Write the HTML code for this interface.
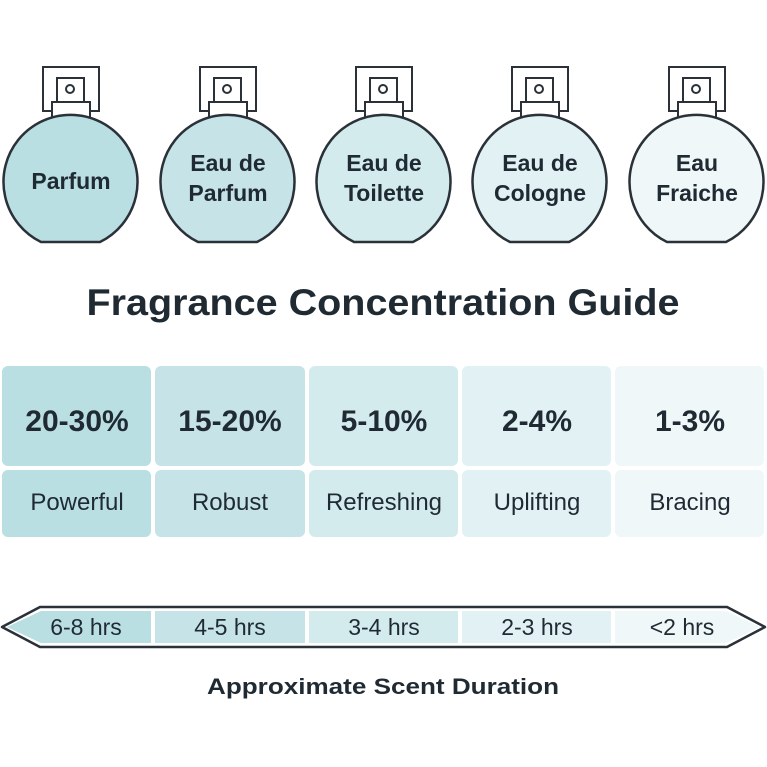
<!DOCTYPE html>
<html><head><meta charset="utf-8"><style>
html,body{margin:0;padding:0;background:#fff;}
svg{display:block;}
text{font-family:"Liberation Sans",sans-serif;fill:#1f2a33;}
</style></head><body>
<svg width="767" height="767" viewBox="0 0 767 767" xmlns="http://www.w3.org/2000/svg">
<defs>
<g id="bottle">
  <rect x="-27" y="67" width="56" height="44" fill="#fff" stroke="#2a3138" stroke-width="2"/>
  <rect x="-13" y="78" width="27" height="24" fill="#fff" stroke="#2a3138" stroke-width="2"/>
  <circle cx="0" cy="89" r="4" fill="none" stroke="#2a3138" stroke-width="2"/>
  <rect x="-18" y="102" width="38" height="20" fill="#fff" stroke="#2a3138" stroke-width="2"/>
</g>
</defs>
<g transform="translate(70,0)"><use href="#bottle"/>
<path d="M-29 242 A67 67 0 1 1 30 242 Z" fill="#b9dfe3" stroke="#2a3138" stroke-width="2.5"/></g>
<g transform="translate(227,0)"><use href="#bottle"/>
<path d="M-29 242 A67 67 0 1 1 30 242 Z" fill="#c6e3e8" stroke="#2a3138" stroke-width="2.5"/></g>
<g transform="translate(383,0)"><use href="#bottle"/>
<path d="M-29 242 A67 67 0 1 1 30 242 Z" fill="#d4ebee" stroke="#2a3138" stroke-width="2.5"/></g>
<g transform="translate(539,0)"><use href="#bottle"/>
<path d="M-29 242 A67 67 0 1 1 30 242 Z" fill="#e2f1f3" stroke="#2a3138" stroke-width="2.5"/></g>
<g transform="translate(696,0)"><use href="#bottle"/>
<path d="M-29 242 A67 67 0 1 1 30 242 Z" fill="#eff7f8" stroke="#2a3138" stroke-width="2.5"/></g>

<g font-weight="bold" font-size="23" text-anchor="middle">
<text x="71" y="189">Parfum</text>
<text x="228" y="171">Eau de</text><text x="228" y="201">Parfum</text>
<text x="384" y="171">Eau de</text><text x="384" y="201">Toilette</text>
<text x="540" y="171">Eau de</text><text x="540" y="201">Cologne</text>
<text x="697" y="171">Eau</text><text x="697" y="201">Fraiche</text>
</g>

<text x="383" y="315" text-anchor="middle" font-size="37" font-weight="bold" textLength="593" lengthAdjust="spacingAndGlyphs">Fragrance Concentration Guide</text>

<g>
<rect x="2" y="366" width="149" height="100" rx="6" fill="#b9dfe3"/>
<rect x="2" y="470" width="149" height="67" rx="6" fill="#b9dfe3"/>
<rect x="155" y="366" width="150" height="100" rx="6" fill="#c6e3e8"/>
<rect x="155" y="470" width="150" height="67" rx="6" fill="#c6e3e8"/>
<rect x="309" y="366" width="149" height="100" rx="6" fill="#d4ebee"/>
<rect x="309" y="470" width="149" height="67" rx="6" fill="#d4ebee"/>
<rect x="462" y="366" width="149" height="100" rx="6" fill="#e2f1f3"/>
<rect x="462" y="470" width="149" height="67" rx="6" fill="#e2f1f3"/>
<rect x="615" y="366" width="149" height="100" rx="6" fill="#eff7f8"/>
<rect x="615" y="470" width="149" height="67" rx="6" fill="#eff7f8"/>
</g>
<g font-weight="bold" font-size="30" text-anchor="middle">
<text x="77" y="431">20-30%</text>
<text x="230" y="431">15-20%</text>
<text x="384" y="431">5-10%</text>
<text x="537" y="431">2-4%</text>
<text x="690" y="431">1-3%</text>
</g>
<g font-size="24" text-anchor="middle">
<text x="77" y="510">Powerful</text>
<text x="230" y="510">Robust</text>
<text x="384" y="510">Refreshing</text>
<text x="537" y="510">Uplifting</text>
<text x="690" y="510">Bracing</text>
</g>

<path d="M40 607 L727 607 L765 627 L727 647 L40 647 L2 627 Z" fill="#fff" stroke="#2a3138" stroke-width="2.5" stroke-linejoin="round"/>
<path d="M41 611 L151 611 L151 643 L41 643 L7 627 Z" fill="#b9dfe3"/>
<rect x="155" y="611" width="150" height="32" fill="#c6e3e8"/>
<rect x="309" y="611" width="149" height="32" fill="#d4ebee"/>
<rect x="462" y="611" width="149" height="32" fill="#e2f1f3"/>
<path d="M615 611 L726 611 L760 627 L726 643 L615 643 Z" fill="#eff7f8"/>
<g font-size="23" text-anchor="middle">
<text x="86" y="635">6-8 hrs</text>
<text x="230" y="635">4-5 hrs</text>
<text x="384" y="635">3-4 hrs</text>
<text x="537" y="635">2-3 hrs</text>
<text x="682" y="635">&lt;2 hrs</text>
</g>
<text x="383" y="694" text-anchor="middle" font-size="22" font-weight="bold" textLength="352" lengthAdjust="spacingAndGlyphs">Approximate Scent Duration</text>
</svg>
</body></html>
